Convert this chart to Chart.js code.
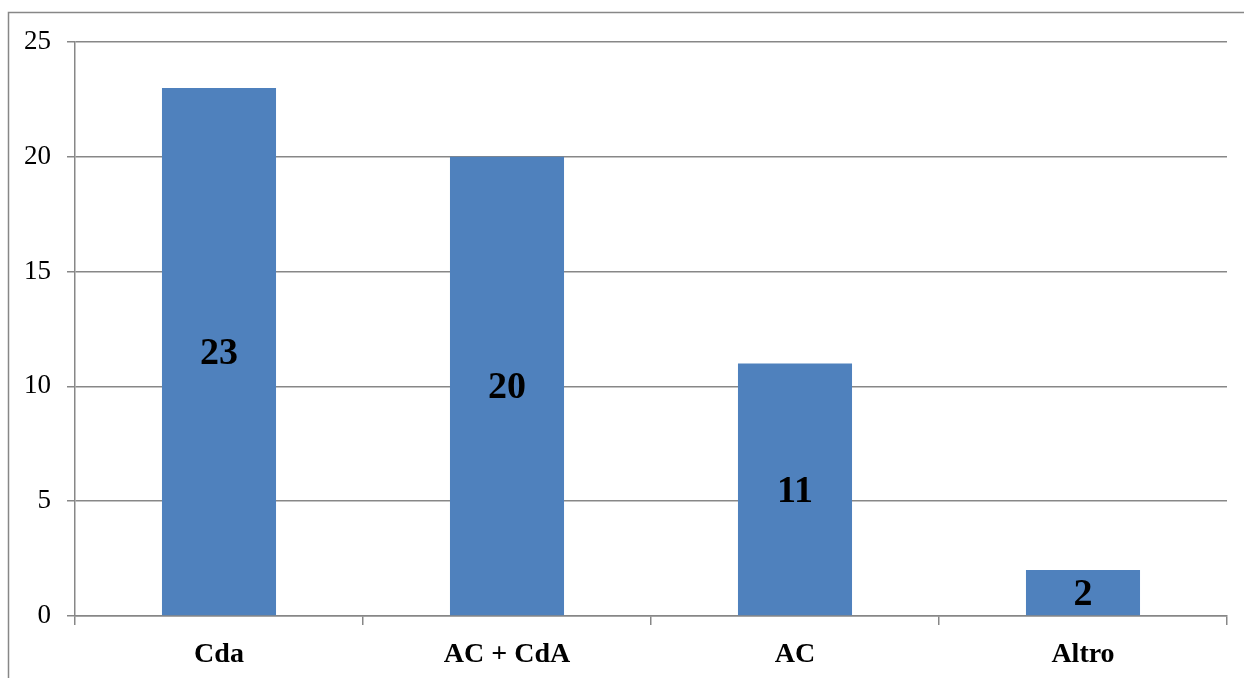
<!DOCTYPE html>
<html>
<head>
<meta charset="utf-8">
<title>Distribuzione</title>
<script src="https://cdn.jsdelivr.net/npm/chart.js@4.4.1/dist/chart.umd.min.js"></script>
<style>
  html, body { margin: 0; padding: 0; background: #ffffff; }
  #wrap { position: relative; width: 1244px; height: 678px; }
  canvas { display: block; }
</style>
</head>
<body>
<div id="wrap"><canvas id="chart" width="1244" height="678"></canvas></div>
<script>
// Categories and counts
const categories = ['Cda', 'AC + CdA', 'AC', 'Altro'];
const counts = [23, 20, 11, 2];
// Value axis range
const yMin = 0;
const yMax = 25;
const yStep = 5;

const GRID = '#878787';
const BAR = '#4F81BD';
const SERIF = '"Liberation Serif", "Times New Roman", serif';

// Outer frame: left and top edges of the chart box
const framePlugin = {
  id: 'frame',
  beforeDraw(chart) {
    const ctx = chart.ctx;
    ctx.save();
    ctx.strokeStyle = GRID;
    ctx.lineWidth = 1.5;
    ctx.beginPath();
    ctx.moveTo(8.5, chart.height);
    ctx.lineTo(8.5, 12.5);
    ctx.lineTo(chart.width, 12.5);
    ctx.stroke();
    ctx.restore();
  }
};

// Value labels centred inside each bar
const barLabels = {
  id: 'barLabels',
  afterDatasetsDraw(chart) {
    const ctx = chart.ctx;
    const meta = chart.getDatasetMeta(0);
    const ys = chart.scales.y;
    ctx.save();
    ctx.font = 'bold 38px ' + SERIF;
    ctx.fillStyle = '#000000';
    ctx.textAlign = 'center';
    ctx.textBaseline = 'middle';
    meta.data.forEach((bar, i) => {
      const v = counts[i];
      const yc = (ys.getPixelForValue(v) + ys.getPixelForValue(0)) / 2;
      ctx.fillText(String(v), bar.x, yc + 2);
    });
    ctx.restore();
  }
};

new Chart(document.getElementById('chart'), {
  type: 'bar',
  data: {
    labels: categories,
    datasets: [{
      data: counts,
      backgroundColor: BAR,
      borderWidth: 0,
      categoryPercentage: 1.0,
      barPercentage: 0.396
    }]
  },
  options: {
    responsive: false,
    animation: false,
    devicePixelRatio: 1,
    layout: { padding: { left: 0, top: 42, right: 17, bottom: 0 } },
    plugins: {
      legend: { display: false },
      tooltip: { enabled: false }
    },
    scales: {
      x: {
        offset: true,
        grid: {
          offset: true,
          drawOnChartArea: false,
          drawTicks: true,
          tickLength: 9,
          color: GRID,
          lineWidth: 1.5
        },
        border: { display: true, color: GRID, width: 1.5 },
        ticks: {
          color: '#000000',
          padding: 13,
          font: { family: SERIF, size: 28, weight: 'bold' },
          maxRotation: 0,
          autoSkip: false
        },
        afterFit(scale) { scale.height = 62; }
      },
      y: {
        min: yMin,
        max: yMax,
        grid: {
          color: GRID,
          lineWidth: 1.5,
          drawTicks: true,
          tickLength: 8
        },
        border: { display: true, color: GRID, width: 1.5 },
        ticks: {
          stepSize: yStep,
          color: '#000000',
          padding: 16,
          font: { family: SERIF, size: 27 }
        },
        afterFit(scale) { scale.width = 75; }
      }
    }
  },
  plugins: [framePlugin, barLabels]
});
</script>
</body>
</html>
